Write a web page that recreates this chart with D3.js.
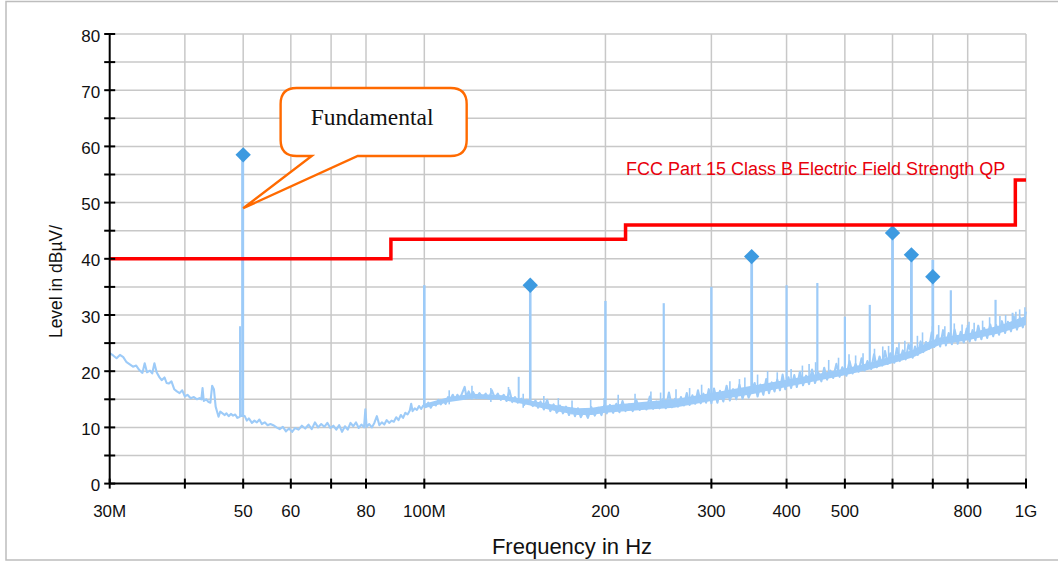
<!DOCTYPE html>
<html><head><meta charset="utf-8">
<script src="https://cdn.jsdelivr.net/npm/d3@7"></script>
<style>
html,body{margin:0;padding:0;background:#fff;}
svg{display:block;}
</style></head>
<body>
<svg id="chart" width="1058" height="562"></svg>
<script>
// ---------- DATA ----------
const freqTicks = [30,40,50,60,70,80,100,200,300,400,500,600,700,800,1000];
const freqLabelVals = [30,50,60,80,100,200,300,400,500,800,1000];
const freqLabelText = ["30M","50","60","80","100M","200","300","400","500","800","1G"];
const levelTicks = [0,5,10,15,20,25,30,35,40,45,50,55,60,65,70,75,80];
const levelLabels = [0,10,20,30,40,50,60,70,80];

const limitFreq  = [30,88,88,216,216,960,960,1000];
const limitLevel = [40,40,43.5,43.5,46,46,54,54];
const limitName = "FCC Part 15 Class B Electric Field Strength QP";

// noise floor trace [MHz, dBuV]
const traceLow = [[30,23.2],[30.4,22.8],[30.8,22.3],[31.2,22.9],[31.6,22.5],[32.0,21.6],[32.4,21.2],[32.8,20.8],[33.2,21.0],[33.6,20.2],[34.0,19.7],[34.3,21.4],[34.6,19.8],[35.0,20.1],[35.3,19.6],[35.6,21.4],[35.9,19.8],[36.3,18.9],[36.6,18.4],[37.0,18.9],[37.3,17.9],[37.6,17.8],[38.0,18.2],[38.4,16.8],[38.8,16.4],[39.2,16.1],[39.6,16.6],[40.0,15.5],[40.4,15.8],[40.9,15.2],[41.4,15.4],[41.9,15.0],[42.3,15.2],[42.6,15.0],[42.8,17.0],[43.0,14.7],[43.4,15.0],[43.8,14.5],[44.1,14.4],[44.4,17.4],[44.7,16.8],[45.0,13.7],[45.3,12.6],[45.5,11.9],[45.8,12.8],[46.2,12.5],[46.6,12.2],[46.9,12.5],[47.3,12.0],[47.7,12.4],[48.1,12.1],[48.5,12.3],[48.9,11.7],[49.2,11.8],[49.6,12.1],[50.3,12.0],[50.7,11.2],[51.1,11.6],[51.7,10.8],[52.2,11.2],[52.7,10.9],[53.2,11.4],[53.7,10.6],[54.3,10.9],[54.9,10.4],[55.5,10.6],[56.1,10.4],[56.8,10.0],[57.5,9.7],[58.2,10.1],[58.9,9.3],[59.6,9.8],[60.3,9.2],[61.0,9.9],[61.8,9.6],[62.6,10.3],[63.4,9.8],[64.2,10.5],[65.0,9.7],[65.8,10.9],[66.6,10.0],[67.4,10.6],[68.2,10.1],[69.0,10.8],[69.8,9.9],[70.6,10.3],[71.4,9.6],[72.2,10.4],[73.0,9.2],[73.8,10.2],[74.6,9.6],[75.4,10.8],[76.2,10.2],[77.0,10.9],[77.8,9.9],[78.6,10.5],[79.4,10.0],[79.8,13.2],[80.2,10.1],[81.0,10.6],[81.8,10.0],[82.6,10.8],[83.4,12.0],[84.2,10.4],[85.0,10.9],[85.8,10.5],[86.6,11.3],[87.4,10.8],[88.2,11.2],[89.0,11.0],[89.8,11.8],[90.6,11.3],[91.4,12.2],[92.2,11.7],[93.0,12.6],[93.8,12.3],[94.6,13.0],[95.1,14.2],[95.6,12.9],[96.4,13.4],[97.2,13.1],[98.0,13.8],[98.8,13.3],[99.6,13.9]];
const traceMid = [[100.5,13.6],[101.5,14.4],[102.5,13.5],[103.5,14.3],[104.5,13.9],[105.5,14.9],[106.5,14.1],[107.5,14.8],[108.5,14.2],[109.5,15.4],[110.5,15.0],[111.5,15.8],[112.5,14.9],[113.5,15.8],[114.5,15.1],[115.5,16.0],[116.7,17.2],[117.5,15.4],[118.5,16.4],[119.5,15.5],[120.5,16.3],[122,15.2],[123.5,16.1],[125,15.3],[126.5,16.0],[128,15.1],[129.5,16.6],[131,15.2],[132.5,16.0],[134,14.9],[135.5,15.8],[137,14.7],[138.5,16.6],[140,14.5],[141.5,15.4],[143,14.4],[145,15.1],[146.5,14.0],[148,14.9],[151.5,13.8],[153,14.8],[154.5,13.5],[156,14.6],[158,13.2],[160,14.9],[162,12.9],[164,14.1],[166,12.6],[168,13.9],[170,12.5],[172,13.7],[174,12.2],[176,13.5],[178,12.0],[180,13.4],[182,11.8],[184.5,13.1],[187,11.7],[189.5,13.6],[192,12.1],[194.5,13.5],[197,12.2],[199,13.9],[201,12.5],[203.5,14.0],[206,12.6],[208.5,14.2],[211,12.7],[213.5,14.7],[216,12.9],[219,14.1],[222,12.9],[225,14.9],[228,13.1],[231,14.3],[234,13.2],[237,15.5],[240,13.3],[243,14.6],[246,13.4],[249,15.0],[252,13.4],[255,16.2],[258,13.6],[261,15.1],[264,13.7],[267,15.4],[270,13.9],[273,16.1],[276,14.0],[279,15.7],[282,14.2],[285,16.6],[288,14.3],[291,16.0],[294,14.4],[297,16.8]];
const traceHigh = [[300,14.3],[303,16.9],[307,14.4],[310,16.5],[314,14.6],[318,17.4],[322,14.8],[326,16.8],[330,15.0],[334,17.6],[338,15.1],[342,17.0],[346,15.3],[354,17.9],[358,15.5],[362,17.6],[366,15.8],[370,18.6],[374,16.1],[378,18.0],[382,16.4],[386,18.5],[390,16.6],[394,19.4],[398,16.8],[403,18.9],[407,17.0],[412,19.3],[416,17.2],[421,19.9],[426,17.5],[431,19.2],[436,17.7],[441,20.3],[446,17.9],[452,19.7],[457,18.2],[462,20.6],[467,18.5],[473,20.1],[478,18.8],[484,21.3],[490,19.0],[495,20.7],[503,19.2],[509,21.8],[515,19.6],[521,21.3],[527,19.9],[533,22.3],[539,20.1],[545,21.8],[553,20.4],[559,23.0],[565,20.7],[571,22.6],[577,21.0],[583,23.6],[589,21.3],[595,23.2],[604,21.5],[610,24.1],[617,21.8],[624,23.7],[631,22.1],[638,24.8],[648,22.4],[654,24.4],[661,22.9],[668,25.3],[675,23.4],[682,25.2],[690,24.0],[697,26.9],[704,24.3],[712,26.4],[720,24.4],[728,27.3],[736,24.6],[744,26.8],[753,24.8],[761,27.4],[770,24.9],[779,27.0],[788,25.1],[797,27.6],[806,25.3],[815,27.3],[824,25.5],[833,28.1],[843,25.7],[852,27.7],[862,25.9],[872,28.3],[882,26.2],[892,28.2],[902,26.5],[912,28.9],[923,26.8],[933,28.8],[944,27.1],[955,29.7],[966,27.4],[977,29.5],[988,27.8],[1000,30.6]];

// noise band envelope [MHz, low, high]
const bandFreq = [100,110,120,135,150,165,180,190,200,230,260,300,350,400,450,500,550,600,650,690,720,800,900,1000];
const bandLow  = [13.4,14.5,15.1,14.9,13.9,12.9,12.2,12.2,12.6,13.1,13.5,14.7,15.9,17.2,18.3,19.3,20.3,21.4,22.5,23.8,24.7,25.5,26.7,28.2];
const bandHigh = [14.2,15.4,16.0,15.7,14.8,14.0,13.4,13.5,13.9,14.5,15.0,16.1,17.4,18.5,19.5,20.5,21.5,22.7,23.8,25.3,26.0,26.7,28.1,29.8];

// small noise spikes above the band [MHz, top dBuV]
const noiseSpikeFreq = [110,120,129,138,146,158,167,176,189,199,210,224,238,247,262,276,289,322,334,341,358,372,386,407,425,436,447,470,488,508,521,536,560,578,591,615,629,660,673,699,716,733,760,783,804,820,847,870,905,925,962,976,996];
const noiseSpikeTop  = [16.6,17.4,17.0,17.2,16.0,15.6,15.2,14.8,14.9,15.2,15.8,16.0,16.4,16.2,16.8,17.0,17.6,18.2,18.6,18.9,19.4,20.0,19.8,20.4,21.0,21.3,21.6,22.0,22.4,23.0,22.8,23.2,24.0,24.4,24.5,25.1,25.4,26.3,26.9,28.0,28.2,28.0,28.5,28.3,28.8,28.6,29.0,29.6,29.8,30.0,30.6,31.0,31.4];

// discrete spikes
const spikeFreq = [49.4,49.9,100,143.5,150,200,250,300,350,400,450,500,550,600,645,700,750,800,890,950];
const spikePeak = [28,58.5,35.3,19.0,35.3,32.5,32.1,35.0,40.4,35.3,35.7,29.7,31.8,44.6,40.7,39.8,34.4,28.2,32.7,30.4];
const spikeBase = [12,12,13.6,14.5,14.2,13.0,13.8,15.0,16.5,17.8,19.0,20.0,21.0,22.5,23.5,25.0,25.5,26.0,27.0,28.0];
const spikeWidth= [2,3,2.6,2,2.6,2.4,2.2,2.4,2.8,2.2,2.2,2.2,2.2,2.8,2.8,2.8,2.2,2,2.2,2];

// peak markers
const markerFreq  = [50,150,350,600,645,700];
const markerLevel = [58.5,35.3,40.4,44.6,40.7,36.8];

// callout (in data units)
const calloutText = "Fundamental";
const calloutTip = [50,49.0];
const calloutBoxF = [57.7,117.6];
const calloutBoxL = [58.3,70.4];
const calloutBaseF = [65.0,77.5];

// ---------- DRAW ----------
const svg = d3.select("#chart");
const x = d3.scaleLog().domain([30,1000]).range([109.7,1026]);
const y = d3.scaleLinear().domain([0,80]).range([483.6,34]);
const FONT = "'Liberation Sans', Arial, sans-serif";

// outer frame
svg.append("rect").attr("x",6).attr("y",1.5).attr("width",1100).attr("height",558.5)
  .attr("fill","none").attr("stroke","#bdbdbd").attr("stroke-width",1.5);

// grid
const grid = svg.append("g");
grid.selectAll("line.h").data(levelTicks.filter(d=>d>0)).join("line")
  .attr("x1",x(30)).attr("x2",x(1000)).attr("y1",d=>y(d)).attr("y2",d=>y(d))
  .attr("stroke","#c8c8c8").attr("stroke-width",1.5);
grid.selectAll("line.v").data(freqTicks.filter(d=>d>30)).join("line")
  .attr("x1",d=>x(d)).attr("x2",d=>x(d)).attr("y1",y(0)).attr("y2",y(80))
  .attr("stroke","#c8c8c8").attr("stroke-width",1.5);

// trace
const line = d3.line().x(d=>x(d[0])).y(d=>y(d[1]));
const traceColor = "#9dcbf8";
const plot = svg.append("g");
const area = d3.area().x(d=>x(d)).y0((d,i)=>y(bandLow[i])).y1((d,i)=>y(bandHigh[i]));
plot.append("path").attr("d",area(bandFreq)).attr("fill",traceColor);
const allTrace = traceLow.concat(traceMid, traceHigh);
plot.append("path").attr("d",line(allTrace)).attr("fill","none")
  .attr("stroke",traceColor).attr("stroke-width",2.1).attr("stroke-linejoin","round");

// small noise spikes
plot.selectAll("line.ns").data(noiseSpikeFreq).join("line")
  .attr("x1",d=>x(d)).attr("x2",d=>x(d))
  .attr("y1",(d,i)=>y(noiseSpikeTop[i]-2.5)).attr("y2",(d,i)=>y(noiseSpikeTop[i]))
  .attr("stroke",traceColor).attr("stroke-width",1.6);

// spikes
plot.selectAll("line.spike").data(spikeFreq).join("line")
  .attr("x1",d=>x(d)).attr("x2",d=>x(d))
  .attr("y1",(d,i)=>y(spikeBase[i])).attr("y2",(d,i)=>y(spikePeak[i]))
  .attr("stroke",traceColor).attr("stroke-width",(d,i)=>spikeWidth[i]);

// markers
const diamond = d3.symbol().type(d3.symbolDiamond2).size(150);
plot.selectAll("path.mk").data(markerFreq).join("path")
  .attr("d",diamond)
  .attr("transform",(d,i)=>`translate(${x(d)},${y(markerLevel[i])})`)
  .attr("fill","#3d9ae0");

// limit line
const limitPts = limitFreq.map((f,i)=>[f,limitLevel[i]]);
svg.append("path").attr("d",line(limitPts)).attr("fill","none")
  .attr("stroke","#ff0000").attr("stroke-width",3.5).attr("stroke-linejoin","miter");
svg.append("text").attr("x",x(216)+0.5).attr("y",y(54.9))
  .attr("font-family",FONT).attr("font-size",18).attr("fill","#e8000b")
  .text(limitName);

// callout
{
  const x0=x(calloutBoxF[0]), x1=x(calloutBoxF[1]);
  const y0=y(calloutBoxL[1]), y1=y(calloutBoxL[0]);
  const bl=x(calloutBaseF[0]), br=x(calloutBaseF[1]);
  const tx=x(calloutTip[0]), ty=y(calloutTip[1]);
  const r=16;
  const p = d3.path();
  p.moveTo(x0+r,y0);
  p.lineTo(x1-r,y0);
  p.quadraticCurveTo(x1,y0,x1,y0+r);
  p.lineTo(x1,y1-r);
  p.quadraticCurveTo(x1,y1,x1-r,y1);
  p.lineTo(br,y1);
  p.lineTo(tx,ty);
  p.lineTo(bl,y1);
  p.lineTo(x0+r,y1);
  p.quadraticCurveTo(x0,y1,x0,y1-r);
  p.lineTo(x0,y0+r);
  p.quadraticCurveTo(x0,y0,x0+r,y0);
  p.closePath();
  svg.append("path").attr("d",p.toString()).attr("fill","#fff")
    .attr("stroke","#ff6a00").attr("stroke-width",2.4).attr("stroke-linejoin","miter");
  svg.append("text").attr("x",(x0+x1)/2-1.5).attr("y",y0+37)
    .attr("text-anchor","middle").attr("font-family","'Liberation Serif','Times New Roman',serif")
    .attr("font-size",23.5).attr("fill","#111").text(calloutText);
}

// axes
const axes = svg.append("g");
axes.append("line").attr("x1",x(30)).attr("x2",x(1000)).attr("y1",y(0)).attr("y2",y(0))
  .attr("stroke","#000").attr("stroke-width",2);
axes.append("line").attr("x1",x(30)).attr("x2",x(30)).attr("y1",y(0)).attr("y2",y(80))
  .attr("stroke","#000").attr("stroke-width",2);
axes.selectAll("line.xt").data(freqTicks).join("line")
  .attr("x1",d=>x(d)).attr("x2",d=>x(d)).attr("y1",y(0)-5).attr("y2",y(0)+5)
  .attr("stroke","#000").attr("stroke-width",2);
axes.selectAll("line.yt").data(levelTicks).join("line")
  .attr("x1",x(30)-5.5).attr("x2",x(30)+5.5).attr("y1",d=>y(d)).attr("y2",d=>y(d))
  .attr("stroke","#000").attr("stroke-width",2);
axes.selectAll("text.xl").data(freqLabelVals).join("text")
  .attr("x",d=>x(d)).attr("y",y(0)+33.5).attr("text-anchor","middle")
  .attr("font-family",FONT).attr("font-size",17).attr("fill","#111")
  .text((d,i)=>freqLabelText[i]);
axes.selectAll("text.yl").data(levelLabels).join("text")
  .attr("x",x(30)-9.5).attr("y",d=>y(d)+7.5).attr("text-anchor","end")
  .attr("font-family",FONT).attr("font-size",17).attr("fill","#111")
  .text(d=>d);

svg.append("text").attr("x",572).attr("y",554).attr("text-anchor","middle")
  .attr("font-family",FONT).attr("font-size",22).attr("fill","#111").text("Frequency in Hz");
svg.append("text").attr("transform","translate(62,281.5) rotate(-90)").attr("text-anchor","middle")
  .attr("font-family",FONT).attr("font-size",17.5).attr("fill","#111").text("Level in dBµV/");
</script>
</body></html>
